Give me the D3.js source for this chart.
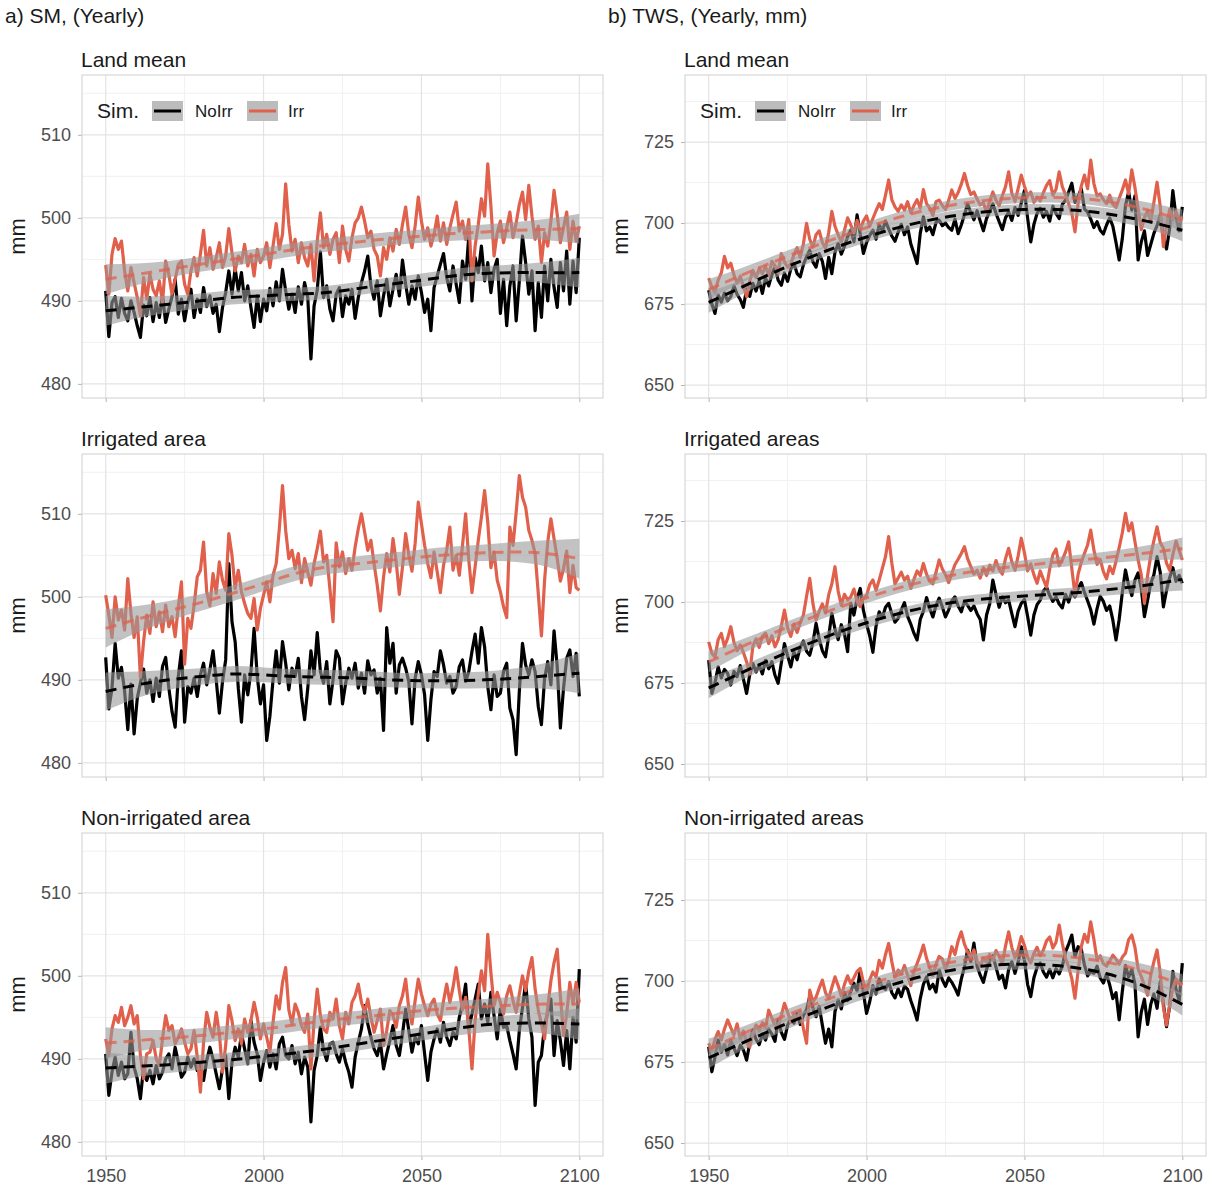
<!DOCTYPE html>
<html>
<head>
<meta charset="utf-8">
<script src="https://cdn.jsdelivr.net/npm/d3@7"></script>
<style>
  body { margin: 0; background: #fff; }
  text { font-family: "Liberation Sans", Arial, sans-serif; }
</style>
</head>
<body>
<svg id="chart" width="1207" height="1190"></svg>
<script>
// yearly series, 1950..2100
var years = d3.range(1950, 2101);
// loess fit read at every 10 years
var fitYears = d3.range(1950, 2101, 10);

// ---- a) SM ----
var smLandNoIrr = [
  491.2, 485.7, 489.8, 490.5, 488.0, 490.3, 488.5, 487.6, 490.0, 488.6,
  487.0, 485.6, 489.5, 488.2, 490.4, 487.5, 489.8, 488.0, 490.6, 487.4,
  489.0, 490.5, 492.6, 488.4, 490.2, 487.6, 489.8, 491.4, 488.0, 490.2,
  488.6, 491.6, 489.3, 490.6, 488.5, 489.6, 486.3, 489.2, 491.0, 493.6,
  490.8, 493.9, 491.2, 493.4, 490.0, 491.8, 489.2, 486.8, 490.6, 487.5,
  490.2, 488.8, 491.5, 489.4, 492.3, 490.0, 493.8, 491.2, 489.0, 490.8,
  488.6, 491.7, 489.6, 492.2, 490.4, 483.0, 489.4, 491.3, 495.9, 490.4,
  491.8, 489.0, 487.6, 490.8, 491.6, 488.1, 490.6, 489.6, 491.4, 487.9,
  490.4, 492.2, 493.6, 495.4, 491.8, 490.2, 492.4, 488.2, 490.6, 492.6,
  489.4, 491.4, 493.2, 490.6, 494.9, 492.0, 489.6, 491.8, 490.2, 493.0,
  491.0, 488.6, 490.2, 486.4, 491.6, 493.0, 494.4, 495.7, 492.8, 491.2,
  494.2, 492.0, 489.8, 494.8, 492.6, 497.8, 490.0, 495.2, 493.4, 496.6,
  492.4, 494.6, 491.0, 493.8, 495.0, 488.5, 492.6, 487.0, 491.8, 494.2,
  487.6, 492.4, 497.8, 494.6, 490.8, 493.6, 486.4, 492.2, 488.0, 494.2,
  490.0, 495.0, 491.6, 489.2, 494.6, 491.2, 496.0, 489.6, 494.8, 491.0,
  497.6
];
var smLandIrr = [
  494.3, 490.8, 495.6, 497.5, 496.2, 497.2, 493.6, 491.2, 494.0, 492.2,
  490.4, 488.2, 492.8, 490.2, 493.2, 491.4, 490.6, 492.4, 489.8, 494.8,
  493.2, 490.8, 492.6, 494.4, 494.8, 492.0, 490.8, 493.6, 495.2, 493.0,
  495.6, 498.5, 494.2, 496.4, 493.8, 495.2, 497.0, 494.0, 495.4, 498.7,
  495.8, 493.6, 495.4, 494.6, 496.8, 494.2, 495.6, 493.0, 496.2, 494.6,
  495.4, 497.0, 494.0, 496.6, 499.3, 496.2, 498.0, 504.1, 499.2, 496.0,
  497.4, 494.6, 497.0, 495.2, 494.2, 496.8, 492.4, 497.2, 500.6, 496.4,
  498.0, 495.6, 497.4, 498.2, 494.6, 499.0, 496.2, 494.8, 497.6, 499.4,
  500.0, 501.3, 499.6, 497.6, 498.4, 496.2, 495.4, 493.0, 496.4, 495.0,
  497.6, 496.0, 498.6, 496.8, 499.2, 501.3, 498.0, 496.4, 499.0, 502.5,
  499.6, 497.4, 498.8, 496.6, 498.0, 500.2, 497.2, 499.4, 496.8, 498.8,
  500.4, 501.9, 498.4, 499.6, 497.4, 499.8, 492.4, 496.6, 499.2, 502.3,
  500.2, 506.5, 501.4, 495.4, 498.2, 499.6, 497.0, 498.8, 500.7, 497.6,
  499.4, 501.6, 503.1, 499.8, 503.9, 500.2, 497.4, 499.0, 494.6, 498.2,
  496.6, 499.6, 503.3, 500.4, 497.0, 498.8, 500.7, 496.2, 499.6, 497.2,
  499.0
];
var smLandNoIrrFit = [488.8, 489.2, 489.6, 490.0, 490.4, 490.6, 490.8, 491.0, 491.5, 492.0, 492.5, 493.0, 493.3, 493.4, 493.4, 493.4];
var smLandIrrFit = [492.6, 493.2, 493.8, 494.4, 495.0, 495.6, 496.2, 496.7, 497.1, 497.5, 497.8, 498.1, 498.3, 498.5, 498.6, 498.7];
var smLandBand = [1.8, 1.3, 1.0, 0.9, 0.85, 0.8, 0.8, 0.8, 0.8, 0.8, 0.8, 0.85, 0.9, 1.0, 1.3, 1.8];

var smIrrNoIrr = [
  492.7, 486.5, 489.0, 494.4, 490.2, 491.5, 488.6, 484.0, 489.5, 483.5,
  487.8, 489.6, 491.3, 488.4, 490.0, 487.4, 490.2, 488.0, 491.6, 492.7,
  489.0, 486.2, 484.3, 490.4, 493.5, 484.9, 489.2, 488.4, 490.2, 488.0,
  490.6, 492.0, 489.4, 491.2, 493.5, 490.0, 486.0, 489.8, 492.4, 504.0,
  497.0, 494.6, 489.0, 484.9, 490.6, 488.2, 491.0, 496.2, 490.4, 487.1,
  489.4, 482.7, 485.6, 490.0, 493.5, 489.6, 494.6, 492.0, 488.8, 491.4,
  490.4, 492.6, 488.0, 485.2, 489.0, 493.5, 490.6, 495.7, 491.0, 489.6,
  492.2, 487.1, 490.0, 493.5, 492.6, 487.1, 489.6, 491.4, 490.2, 492.0,
  489.0, 490.8, 488.4, 492.3, 490.6, 491.2, 488.4, 490.2, 483.9, 496.3,
  492.0, 494.4, 488.4, 491.8, 492.6, 491.4, 489.8, 484.7, 490.2, 492.2,
  490.6, 488.2, 482.7, 487.6, 491.0, 490.4, 493.5, 491.8, 489.6, 490.4,
  488.4, 489.2, 491.6, 492.4, 489.8, 491.0, 493.4, 495.5, 492.0, 496.3,
  494.0, 489.2, 486.4, 490.6, 488.0, 488.4, 491.0, 492.0, 486.6, 485.2,
  481.0, 488.6, 494.4, 491.8, 490.6, 492.4, 491.0, 486.8, 484.6, 490.2,
  492.2, 489.4, 495.9, 491.6, 484.2, 489.0, 492.6, 493.6, 490.4, 493.2,
  488.0
];
var smIrrIrr = [
  500.2, 497.8, 495.1, 500.0, 497.2, 498.4, 496.0, 502.2, 498.0, 495.1,
  497.6, 490.3, 494.6, 497.8, 495.6, 499.4, 496.4, 498.2, 495.8, 499.0,
  496.4, 497.6, 495.2, 498.8, 501.8, 491.9, 497.4, 496.2, 499.0, 502.4,
  503.2, 506.6, 500.6, 498.9, 502.8, 500.4, 504.2, 502.0, 500.8, 507.6,
  505.0, 501.0, 503.2, 500.6, 499.2, 498.0, 497.4, 499.8, 496.0, 498.6,
  500.2, 501.8, 499.4, 502.6, 504.0, 508.2, 513.4, 508.0, 504.6, 505.6,
  503.4, 505.2, 501.7, 504.6, 503.0, 501.4, 504.0, 505.8, 507.9, 504.2,
  505.0, 501.0, 497.0, 506.5, 503.6, 505.4, 502.8, 504.6, 503.2, 506.0,
  508.2, 510.0, 507.8, 505.6, 506.8, 504.0, 501.4, 498.3, 502.4, 505.2,
  503.0, 507.0, 504.2, 500.3, 503.6, 507.6, 505.0, 503.1, 506.4, 511.4,
  508.8, 506.2, 504.0, 502.3, 505.4, 503.0, 500.5, 503.8, 505.6, 508.4,
  503.2, 505.0, 502.6, 506.2, 510.0, 504.4, 500.5, 503.6, 506.8, 509.6,
  512.8, 509.0, 503.5, 505.4, 502.0, 500.6, 498.8, 497.5, 508.4, 506.2,
  510.2, 514.6, 512.0, 510.8, 508.0, 506.8, 505.2, 500.4, 495.3, 502.0,
  506.6, 509.4, 507.0, 504.6, 501.9, 503.4, 505.5, 500.5, 503.8, 501.1,
  500.8
];
var smIrrNoIrrFit = [488.6, 489.4, 490.0, 490.4, 490.7, 490.6, 490.4, 490.3, 490.2, 490.0, 489.9, 489.9, 490.0, 490.2, 490.5, 490.8];
var smIrrIrrFit = [496.2, 497.3, 498.3, 499.3, 500.4, 501.6, 502.8, 503.6, 504.0, 504.4, 504.8, 505.1, 505.3, 505.4, 505.2, 504.6];
var smIrrBand = [2.3, 1.6, 1.2, 1.0, 0.95, 0.9, 0.9, 0.9, 0.9, 0.9, 0.9, 0.95, 1.0, 1.2, 1.6, 2.4];

var smNonNoIrr = [
  490.6, 485.6, 488.4, 490.2, 488.0, 489.6, 487.6, 488.2, 493.2, 489.0,
  487.6, 485.2, 489.0, 487.4, 488.6, 487.0, 489.2, 487.6, 488.4, 490.0,
  490.6, 488.8, 491.4, 489.6, 487.8, 488.4, 490.2, 489.0, 490.0, 488.6,
  489.4, 487.4, 489.8, 491.4, 490.0, 488.2, 486.4, 488.8, 490.4, 485.2,
  489.6, 491.4, 490.2, 493.0, 491.2, 489.4, 494.6, 492.0, 490.6, 487.4,
  489.6, 491.0, 489.0, 490.6, 488.8, 491.8, 492.6, 490.4, 490.0, 491.6,
  489.4, 490.8, 488.2, 490.2, 489.0, 482.4, 488.6, 490.4, 493.8, 491.0,
  489.8, 491.8, 492.0, 490.6, 489.6, 491.2, 489.6, 488.4, 486.6, 490.2,
  492.0, 493.6, 496.4, 494.2, 492.6, 491.2, 490.4, 492.0, 488.8, 490.6,
  492.2, 494.0, 491.6, 490.4, 493.0, 496.0, 493.4, 490.8, 492.6, 491.8,
  494.0, 490.6, 487.4, 490.8, 492.4, 493.6, 492.0, 494.4, 492.6, 491.6,
  493.2, 492.4, 495.0, 496.6, 499.0, 493.6, 495.4, 497.2, 499.0, 494.8,
  496.6, 494.4, 498.0, 495.2, 492.4, 496.0, 493.8, 494.0, 492.2, 490.6,
  488.8, 493.4, 496.2, 499.2, 494.8, 492.6, 484.4, 489.6, 490.4, 494.0,
  495.6, 497.2, 490.4, 494.6, 492.2, 489.2, 493.4, 488.8, 495.0, 492.0,
  500.8
];
var smNonIrr = [
  492.4, 490.4, 493.6, 495.2, 494.4, 496.2, 494.0, 495.0, 496.4, 494.2,
  495.2, 490.4, 487.6, 490.6, 490.8, 492.2, 490.0, 489.2, 492.4, 495.2,
  493.4, 494.0, 491.8, 492.6, 493.6, 492.0, 490.6, 491.2, 493.4, 490.2,
  486.0, 492.0, 495.6, 493.8, 492.6, 495.6, 493.0, 488.4, 491.6, 496.4,
  494.6, 492.2, 493.6, 491.8, 494.8, 493.2, 494.6, 496.8, 495.0, 492.4,
  494.2, 492.6, 490.8, 494.4, 497.6, 496.0, 499.2, 501.0, 495.9, 494.2,
  496.6, 495.6, 494.0, 493.2, 495.4, 488.8, 494.6, 498.4, 495.2, 493.6,
  493.2, 495.6, 494.8, 497.2, 494.0, 492.4, 495.6, 494.2, 496.8, 497.6,
  499.0, 496.8, 495.6, 497.2, 495.0, 493.2, 494.6, 496.0, 491.6, 493.4,
  495.8, 495.2, 493.8, 496.4, 497.6, 499.6, 496.0, 494.2, 497.0, 499.6,
  497.8, 496.4, 495.2, 496.6, 497.2, 495.4, 494.6, 497.0, 499.0, 496.8,
  498.6, 501.0, 498.2, 495.9, 497.4, 493.6, 488.8, 494.6, 497.8, 500.6,
  498.2, 505.0, 500.4, 496.4, 498.0, 496.8, 495.4, 497.6, 498.8, 497.0,
  495.6, 497.8, 500.0, 498.2, 500.6, 502.2, 498.4, 495.9, 494.2, 492.4,
  496.2, 499.4, 501.6, 503.2, 497.6, 492.8, 495.4, 499.2, 496.6, 499.2,
  496.8
];
var smNonNoIrrFit = [488.9, 489.1, 489.3, 489.6, 489.9, 490.3, 490.7, 491.2, 491.8, 492.4, 493.0, 493.6, 494.1, 494.3, 494.3, 494.2];
var smNonIrrFit = [491.9, 492.2, 492.5, 492.8, 493.2, 493.6, 494.1, 494.6, 495.0, 495.4, 495.8, 496.1, 496.3, 496.5, 496.6, 496.6];
var smNonBand = [1.9, 1.3, 1.0, 0.9, 0.85, 0.8, 0.8, 0.8, 0.8, 0.8, 0.8, 0.85, 0.9, 1.0, 1.3, 1.9];

// ---- b) TWS ----
var twsLandNoIrr = [
  679.3, 675.0, 672.1, 677.8, 675.6, 678.4, 676.0, 677.3, 680.6, 678.0,
  676.4, 674.0, 679.6, 677.4, 681.4, 679.0, 682.2, 678.3, 683.0, 680.6,
  684.0, 686.5, 682.4, 680.8, 684.6, 682.0, 685.8, 687.5, 684.4, 683.4,
  687.2, 689.6, 691.6, 688.0, 686.4, 690.6, 688.2, 682.9, 689.4, 684.4,
  691.0, 693.7, 690.4, 692.8, 695.8, 697.8, 694.2, 702.5, 696.6, 690.6,
  694.0, 696.2, 697.8, 695.0, 699.4, 697.6, 700.6, 698.2, 696.0, 694.4,
  697.2, 699.6, 696.4, 698.8, 693.6, 690.6, 687.5, 696.8, 701.9, 697.6,
  698.8, 696.4, 700.2, 700.9, 699.2, 700.0, 698.6, 697.8, 701.2, 696.7,
  699.4, 702.6, 705.9, 703.2, 701.0, 703.8, 700.6, 697.6, 701.4, 703.6,
  705.9, 703.0, 700.4, 698.0, 701.6, 703.4, 700.8, 704.8, 702.4, 706.2,
  710.0, 701.6, 694.2, 699.6, 703.0, 704.6, 701.8, 703.6, 700.6, 705.2,
  703.0, 701.4, 705.8, 707.0, 709.6, 712.3, 706.4, 708.2, 710.6, 704.4,
  703.4, 701.2, 698.6, 700.4, 697.8, 696.6, 699.4, 701.6, 699.0, 694.0,
  688.6, 695.2, 705.4, 709.6, 704.0, 708.4, 688.6, 694.2, 697.6, 690.0,
  693.4, 696.8, 699.2, 702.6, 695.4, 692.0, 698.4, 710.0, 702.0, 697.6,
  705.0
];
var twsLandIrr = [
  683.0, 680.2, 678.6, 682.4, 684.6, 689.7, 686.2, 687.6, 684.0, 681.4,
  683.6, 680.4, 677.3, 682.0, 685.4, 683.2, 686.0, 684.4, 686.6, 683.8,
  688.2, 686.8, 684.6, 690.6, 688.0, 686.4, 687.4, 690.2, 692.4, 689.4,
  693.6, 699.9, 695.0, 692.6, 696.4, 697.6, 694.0, 692.2, 697.0, 703.6,
  699.0, 696.4, 694.2, 697.8, 701.6, 699.4, 697.0, 700.8, 698.2, 700.6,
  702.2, 699.0, 701.4, 703.8, 706.0, 704.2, 708.6, 713.3, 707.2, 705.0,
  703.6, 705.6, 704.0, 706.6, 703.2, 705.4, 707.2, 704.6, 710.3, 706.0,
  704.6, 702.4, 706.6, 707.1, 705.4, 704.2, 707.0, 710.2, 707.6, 709.4,
  712.0, 715.3, 711.6, 708.8, 709.6, 707.4, 705.6, 706.2, 703.4, 706.8,
  709.6, 707.0, 705.4, 708.4, 711.2, 715.8, 709.2, 706.6, 710.6, 714.8,
  711.4, 708.4, 709.6, 706.4, 708.0, 706.8, 709.4, 711.6, 713.1, 708.6,
  710.4, 715.8, 711.2, 708.8, 706.0, 703.0, 697.3, 706.2, 711.4, 714.8,
  710.6, 719.4, 712.2, 708.4, 709.0, 707.2, 706.0, 708.6, 705.8, 704.8,
  707.6, 710.2, 713.3, 709.0, 716.4, 711.0, 704.4, 698.0, 701.6, 703.8,
  700.6, 706.4, 712.6, 705.2, 692.7, 699.4, 704.2, 701.0, 703.6, 700.6,
  701.9
];
var twsLandNoIrrFit = [675.5, 680.0, 684.5, 688.6, 692.4, 695.7, 698.6, 700.9, 702.6, 703.7, 704.2, 704.2, 703.6, 702.2, 700.3, 697.8];
var twsLandIrrFit = [679.5, 683.7, 687.8, 691.6, 695.2, 698.6, 701.7, 704.2, 706.0, 707.2, 707.8, 707.9, 707.4, 706.0, 703.8, 700.8];
var twsLandBand = [3.2, 2.3, 1.9, 1.7, 1.6, 1.6, 1.6, 1.6, 1.6, 1.6, 1.6, 1.6, 1.7, 1.9, 2.4, 3.4];

var twsIrrNoIrr = [
  682.1, 671.8, 675.0, 680.0, 676.6, 679.2, 678.0, 674.4, 678.6, 677.0,
  680.4, 676.2, 671.8, 677.6, 681.0, 678.4, 680.6, 677.8, 682.0, 679.4,
  681.6, 677.4, 674.9, 681.2, 687.2, 683.4, 680.0, 684.6, 682.2, 686.0,
  688.0, 684.8, 683.6, 687.4, 693.4, 688.6, 685.0, 683.1, 689.4, 696.5,
  691.6, 688.4, 693.0, 690.2, 684.7, 699.6, 696.0, 701.0, 704.2, 697.4,
  693.2, 689.6, 684.5, 692.6, 697.0, 695.2, 698.4, 699.6, 696.4, 693.8,
  695.0, 697.6, 699.8, 695.6, 693.2, 690.4, 688.3, 694.6, 697.2, 701.4,
  698.0, 695.4, 699.0, 701.2, 698.5, 695.4, 697.6, 700.4, 701.6, 698.8,
  697.0, 700.2, 699.0, 697.4, 698.8, 696.4, 694.6, 688.3, 696.0, 699.4,
  706.8, 702.2, 698.4, 701.6, 699.8, 700.6, 696.4, 692.4, 697.2, 699.6,
  700.8, 695.6, 689.8, 696.0, 699.2, 700.6, 703.4, 704.6, 702.0, 700.2,
  701.6, 699.4, 698.2, 702.4, 700.0, 703.2, 701.6, 704.2, 706.0, 703.0,
  700.4, 697.6, 693.2, 698.0, 701.8, 700.2, 697.4, 698.8, 694.4, 688.3,
  694.6, 703.0, 709.9, 705.2, 702.0, 706.8, 709.0, 704.2, 695.5, 700.6,
  705.8, 708.4, 714.0, 709.2, 698.5, 703.6, 707.6, 710.6, 706.4, 708.2,
  705.8
];
var twsIrrIrr = [
  687.7, 684.2, 683.0, 688.4, 690.3, 686.2, 688.8, 692.4, 687.6, 685.0,
  686.8, 684.4, 681.6, 678.0, 686.4, 688.6, 686.0, 689.4, 690.4, 687.2,
  689.6, 686.2, 688.4, 692.6, 697.5, 692.0, 689.4, 693.2, 690.6, 693.6,
  696.0, 701.8, 707.3, 699.6, 694.4, 697.2, 699.4, 696.6, 702.2, 705.6,
  710.9, 703.4, 699.0, 702.4, 700.6, 701.6, 704.0, 700.2, 698.6, 701.4,
  702.0, 705.4, 706.8, 703.6, 706.8, 710.4, 714.0, 720.2, 712.0, 705.6,
  707.4, 709.2, 706.8, 708.0, 704.2, 707.0, 709.6, 708.2, 711.9, 708.6,
  706.4, 705.6, 709.2, 713.0, 710.2, 708.4, 706.0, 708.8, 711.6, 713.2,
  715.0, 717.1, 713.4, 711.0, 708.6, 709.8, 707.4, 710.6, 708.2, 711.4,
  709.6, 712.8, 710.0, 708.6, 713.4, 716.6, 712.4, 709.8, 714.2, 719.7,
  715.2, 709.6, 711.8, 708.4, 705.8, 709.6, 707.0, 704.6, 710.2, 714.6,
  716.4, 711.2, 713.0, 715.4, 718.6, 710.4, 702.2, 708.6, 712.2, 715.0,
  717.6, 722.2, 716.0, 711.6, 713.2, 709.4, 707.2, 711.0, 708.8, 712.6,
  716.8, 721.4, 727.4, 722.0, 724.4, 718.6, 713.0, 708.4, 699.6, 708.2,
  714.4, 719.0, 723.2, 718.4, 716.6, 712.0, 709.8, 714.6, 718.8, 716.0,
  713.0
];
var twsIrrNoIrrFit = [673.5, 678.0, 682.4, 686.5, 690.3, 693.6, 696.4, 698.6, 700.2, 701.2, 701.9, 702.5, 703.2, 704.2, 705.4, 707.0];
var twsIrrIrrFit = [681.5, 686.0, 690.2, 694.2, 697.9, 701.3, 704.3, 706.8, 708.8, 710.2, 711.3, 712.3, 713.2, 714.2, 715.3, 716.5];
var twsIrrBand = [3.2, 2.3, 1.9, 1.7, 1.6, 1.6, 1.6, 1.6, 1.6, 1.6, 1.6, 1.6, 1.7, 1.9, 2.4, 3.4];

var twsNonNoIrr = [
  679.7, 672.0, 676.6, 681.8, 678.0, 680.4, 677.2, 681.6, 679.4, 677.0,
  680.2, 678.7, 675.6, 680.8, 684.9, 682.0, 680.4, 683.6, 681.8, 685.2,
  683.6, 681.4, 688.0, 684.2, 682.0, 686.4, 688.6, 687.0, 690.0, 686.6,
  689.4, 691.2, 695.2, 691.8, 689.0, 692.2, 686.4, 680.8, 685.2, 679.7,
  690.6, 694.2, 691.4, 696.4, 694.0, 696.8, 699.3, 697.0, 703.4, 696.2,
  690.0, 693.6, 698.6, 696.0, 700.6, 698.2, 697.4, 699.8, 696.4, 694.8,
  697.6, 695.2, 698.4, 697.4, 694.0, 691.2, 688.0, 694.6, 699.0, 701.3,
  697.6, 699.0, 696.6, 703.4, 700.4, 698.4, 701.0, 699.6, 697.8, 695.7,
  700.6, 704.4, 709.6, 706.0, 711.7, 704.6, 701.8, 699.6, 703.6, 706.2,
  707.8, 704.2, 700.6, 701.8, 697.9, 703.6, 706.0, 702.4, 705.8, 710.6,
  706.4, 699.0, 695.2, 701.0, 704.2, 705.6, 702.8, 701.2, 703.6, 701.0,
  703.8, 702.2, 704.6, 709.0, 711.4, 714.2, 707.6, 710.6, 709.8, 705.0,
  701.6, 703.0, 702.4, 704.6, 701.0, 699.4, 702.2, 698.8, 694.6, 696.4,
  688.0, 696.8, 704.8, 701.2, 703.6, 699.0, 682.8, 690.4, 694.4, 686.6,
  692.8, 696.0, 691.6, 699.8, 693.0, 685.9, 692.4, 703.0, 697.4, 694.0,
  705.5
];
var twsNonIrr = [
  680.8, 678.4, 682.0, 684.4, 681.8, 685.2, 688.0, 685.6, 683.4, 686.8,
  682.2, 684.6, 681.0, 679.6, 683.8, 686.4, 684.6, 687.2, 685.4, 691.0,
  688.6, 686.4, 685.6, 689.4, 693.1, 690.4, 687.2, 689.6, 688.2, 690.6,
  685.4, 680.8, 697.2, 693.6, 695.0, 697.8, 700.3, 696.4, 694.6, 698.0,
  701.3, 698.6, 695.4, 699.0, 701.6, 699.2, 701.0, 703.0, 703.9, 699.6,
  696.6, 700.4, 702.8, 701.2, 706.4, 704.0, 708.2, 711.6, 706.0, 701.2,
  703.4, 702.2, 704.8, 701.8, 698.6, 703.0, 705.4, 708.0, 711.1, 707.0,
  704.2, 701.6, 705.2, 707.6, 706.8, 703.6, 706.4, 710.6, 708.2, 712.4,
  715.2, 711.4, 709.0, 707.4, 709.6, 706.2, 704.6, 707.0, 705.8, 708.2,
  706.4, 709.4, 707.6, 705.2, 710.8, 715.2, 710.4, 707.2, 709.8, 713.7,
  711.0, 707.4, 705.6, 708.6, 710.4, 707.8, 709.6, 712.4, 713.6, 710.2,
  712.0, 717.3, 711.6, 707.0, 704.4, 700.8, 694.7, 703.2, 710.6, 714.4,
  712.0, 718.3, 712.8, 706.6, 707.8, 705.4, 704.6, 706.2, 708.0, 706.8,
  705.2, 707.4, 708.6, 712.8, 714.2, 710.4, 703.8, 701.4, 698.6, 695.6,
  701.8, 706.0, 709.6, 702.4, 692.0, 686.4, 692.6, 697.8, 700.6, 699.4,
  698.8
];
var twsNonNoIrrFit = [676.3, 680.6, 684.9, 689.0, 692.8, 696.3, 699.4, 702.0, 703.8, 704.9, 705.2, 704.8, 703.5, 701.2, 697.6, 692.8];
var twsNonIrrFit = [679.0, 683.4, 687.6, 691.5, 695.2, 698.7, 701.8, 704.4, 706.3, 707.5, 708.0, 707.8, 706.8, 705.0, 702.3, 698.8];
var twsNonBand = [3.2, 2.3, 1.9, 1.7, 1.6, 1.6, 1.6, 1.6, 1.6, 1.6, 1.6, 1.6, 1.7, 1.9, 2.4, 3.4];

var simNames = ["NoIrr", "Irr"];
var simColors = ["#000000", "#E0604C"];
var xTicks = [1950, 2000, 2050, 2100];

// layout
var columns = [
  { x0: 82, x1: 603, domain: [478.3, 517.2], ticks: [480, 490, 500, 510], minor: [485, 495, 505, 515],
    title: "a) SM, (Yearly)", titleX: 5, mmX: 25 },
  { x0: 685, x1: 1206, domain: [646, 745.7], ticks: [650, 675, 700, 725], minor: [662.5, 687.5, 712.5, 737.5],
    title: "b) TWS, (Yearly, mm)", titleX: 608, mmX: 628 }
];
var rowTops = [75, 454, 833];
var panelH = 323;

var panels = [
  { col: 0, row: 0, label: "Land mean", s: [smLandNoIrr, smLandIrr], fit: [smLandNoIrrFit, smLandIrrFit], band: smLandBand },
  { col: 0, row: 1, label: "Irrigated area", s: [smIrrNoIrr, smIrrIrr], fit: [smIrrNoIrrFit, smIrrIrrFit], band: smIrrBand },
  { col: 0, row: 2, label: "Non-irrigated area", s: [smNonNoIrr, smNonIrr], fit: [smNonNoIrrFit, smNonIrrFit], band: smNonBand },
  { col: 1, row: 0, label: "Land mean", s: [twsLandNoIrr, twsLandIrr], fit: [twsLandNoIrrFit, twsLandIrrFit], band: twsLandBand },
  { col: 1, row: 1, label: "Irrigated areas", s: [twsIrrNoIrr, twsIrrIrr], fit: [twsIrrNoIrrFit, twsIrrIrrFit], band: twsIrrBand },
  { col: 1, row: 2, label: "Non-irrigated areas", s: [twsNonNoIrr, twsNonIrr], fit: [twsNonNoIrrFit, twsNonIrrFit], band: twsNonBand }
];

var svg = d3.select("#chart");

columns.forEach(function (c) {
  svg.append("text")
    .attr("x", c.titleX).attr("y", 23)
    .attr("font-size", 21).attr("fill", "#1a1a1a")
    .text(c.title);
});

panels.forEach(function (p) {
  var c = columns[p.col];
  var top = rowTops[p.row];
  var x = d3.scaleLinear().domain([1942.5, 2107.5]).range([c.x0, c.x1]);
  var y = d3.scaleLinear().domain(c.domain).range([top + panelH, top]);
  var g = svg.append("g");

  // grid
  g.selectAll(".ymin").data(c.minor).enter().append("line")
    .attr("x1", c.x0).attr("x2", c.x1)
    .attr("y1", function (d) { return y(d); }).attr("y2", function (d) { return y(d); })
    .attr("stroke", "#f1f1f1").attr("stroke-width", 1);
  g.selectAll(".xmin").data([1975, 2025, 2075]).enter().append("line")
    .attr("y1", top).attr("y2", top + panelH)
    .attr("x1", function (d) { return x(d); }).attr("x2", function (d) { return x(d); })
    .attr("stroke", "#f1f1f1").attr("stroke-width", 1);
  g.selectAll(".ymaj").data(c.ticks).enter().append("line")
    .attr("x1", c.x0).attr("x2", c.x1)
    .attr("y1", function (d) { return y(d); }).attr("y2", function (d) { return y(d); })
    .attr("stroke", "#e3e3e3").attr("stroke-width", 1.2);
  g.selectAll(".xmaj").data(xTicks).enter().append("line")
    .attr("y1", top).attr("y2", top + panelH)
    .attr("x1", function (d) { return x(d); }).attr("x2", function (d) { return x(d); })
    .attr("stroke", "#e3e3e3").attr("stroke-width", 1.2);

  // y axis
  var yAxis = g.append("g")
    .attr("transform", "translate(" + c.x0 + ",0)")
    .call(d3.axisLeft(y).tickValues(c.ticks).tickSize(4).tickPadding(7));
  yAxis.select(".domain").remove();
  yAxis.selectAll("line").attr("stroke", "#b3b3b3");
  yAxis.selectAll("text").attr("font-size", 18).attr("fill", "#4d4d4d")
    .attr("font-family", "Liberation Sans, Arial, sans-serif");

  // x axis (labels on the bottom row only)
  var xAxis = g.append("g")
    .attr("transform", "translate(0," + (top + panelH) + ")")
    .call(d3.axisBottom(x).tickValues(xTicks).tickFormat(d3.format("d")).tickSize(4).tickPadding(9));
  xAxis.select(".domain").remove();
  xAxis.selectAll("line").attr("stroke", "#b3b3b3");
  xAxis.selectAll("text").attr("font-size", 18).attr("fill", "#4d4d4d")
    .attr("font-family", "Liberation Sans, Arial, sans-serif")
    .attr("opacity", p.row === 2 ? 1 : 0);

  // axis title
  g.append("text")
    .attr("transform", "translate(" + c.mmX + "," + (top + panelH / 2) + ") rotate(-90)")
    .attr("text-anchor", "middle").attr("font-size", 22).attr("fill", "#1a1a1a")
    .text("mm");

  // strip label
  g.append("text")
    .attr("x", c.x0 - 1).attr("y", top - 8)
    .attr("font-size", 21).attr("fill", "#1a1a1a")
    .text(p.label);

  // yearly lines
  var line = d3.line()
    .x(function (d, i) { return x(years[i]); })
    .y(function (d) { return y(d); });
  p.s.forEach(function (s, k) {
    g.append("path").datum(s)
      .attr("d", line)
      .attr("fill", "none")
      .attr("stroke", simColors[k])
      .attr("stroke-width", 3.2)
      .attr("stroke-linejoin", "round");
  });

  // smooth bands
  var area = d3.area()
    .curve(d3.curveNatural)
    .x(function (d, i) { return x(fitYears[i]); })
    .y0(function (d, i) { return y(d - p.band[i]); })
    .y1(function (d, i) { return y(d + p.band[i]); });
  p.fit.forEach(function (f) {
    g.append("path").datum(f)
      .attr("d", area)
      .attr("fill", "#999999")
      .attr("fill-opacity", 0.6);
  });

  // smooth dashed lines
  var fitLine = d3.line()
    .curve(d3.curveNatural)
    .x(function (d, i) { return x(fitYears[i]); })
    .y(function (d) { return y(d); });
  p.fit.forEach(function (f, k) {
    g.append("path").datum(f)
      .attr("d", fitLine)
      .attr("fill", "none")
      .attr("stroke", simColors[k])
      .attr("stroke-opacity", k === 0 ? 1 : 0.75)
      .attr("stroke-width", 3)
      .attr("stroke-dasharray", "11,7");
  });

  // panel border
  g.append("rect")
    .attr("x", c.x0).attr("y", top)
    .attr("width", c.x1 - c.x0).attr("height", panelH)
    .attr("fill", "none").attr("stroke", "#d0d0d0").attr("stroke-width", 1);

  // legend in the top panels
  if (p.row === 0) {
    var lg = g.append("g").attr("transform", "translate(" + (c.x0 + 15) + "," + (top + 36) + ")");
    lg.append("text").attr("x", 0).attr("y", 7).attr("font-size", 21).attr("fill", "#1a1a1a").text("Sim.");
    var keyX = [55, 150];
    var labX = [98, 191];
    simNames.forEach(function (n, k) {
      lg.append("rect").attr("x", keyX[k]).attr("y", -10)
        .attr("width", 31).attr("height", 20).attr("fill", "#bcbcbc");
      lg.append("line").attr("x1", keyX[k] + 2).attr("x2", keyX[k] + 29)
        .attr("y1", 0).attr("y2", 0)
        .attr("stroke", simColors[k]).attr("stroke-width", 3);
      lg.append("text").attr("x", labX[k]).attr("y", 6).attr("font-size", 17)
        .attr("fill", "#1a1a1a").text(n);
    });
  }
});
</script>
</body>
</html>
